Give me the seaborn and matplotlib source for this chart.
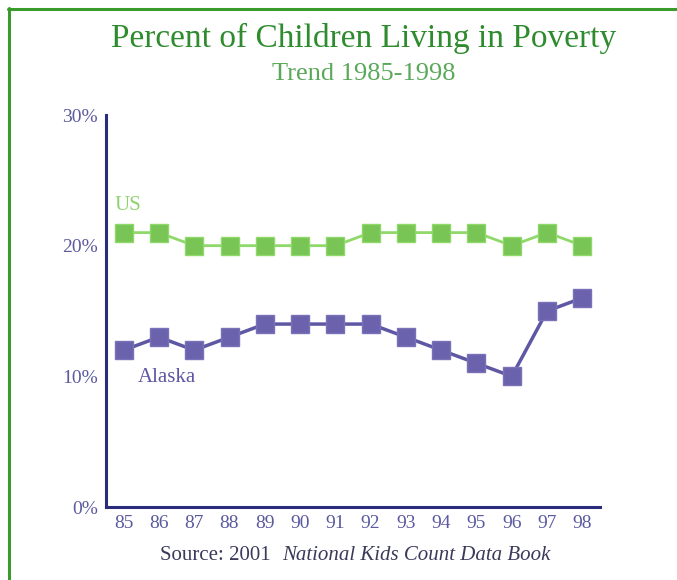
import matplotlib
matplotlib.use("Agg")
import matplotlib.pyplot as plt
import seaborn as sns
import pandas as pd

years = ["85", "86", "87", "88", "89", "90", "91", "92", "93", "94", "95", "96", "97", "98"]
us_values = [21, 21, 20, 20, 20, 20, 20, 21, 21, 21, 21, 20, 21, 20]
alaska_values = [12, 13, 12, 13, 14, 14, 14, 14, 13, 12, 11, 10, 15, 16]
y_ticks = [0, 10, 20, 30]
y_tick_labels = ["0%", "10%", "20%", "30%"]

sns.set_theme(style="white")
plt.rcParams["font.family"] = ["Liberation Serif", "DejaVu Serif"]

pos = list(range(len(years)))
df_us = pd.DataFrame({"pos": pos, "value": us_values})
df_ak = pd.DataFrame({"pos": pos, "value": alaska_values})

fig = plt.figure(figsize=(6.77, 5.80), dpi=100)
ax = fig.add_axes([106 / 677, 73 / 580, (600 - 106) / 677, (507 - 115) / 580])

axis_col = "#2b2b7e"
tick_col = "#5a5a9e"
ak_col = "#5e58a4"

sns.lineplot(data=df_us, x="pos", y="value", ax=ax, color="#8fd86a", linewidth=2,
             marker="s", markersize=13, markerfacecolor="#78c455",
             markeredgecolor="#8fd86a", markeredgewidth=1)
sns.lineplot(data=df_ak, x="pos", y="value", ax=ax, color=ak_col, linewidth=2.5,
             marker="s", markersize=13, markerfacecolor="#6a62ac",
             markeredgecolor="#7a72b8", markeredgewidth=1)

ax.set_xlim(-0.5, len(years) - 0.5)
ax.set_ylim(0, 30)
ax.set_xlabel("")
ax.set_ylabel("")

# y ticks
ax.set_yticks(y_ticks)
ax.set_yticklabels(y_tick_labels, color=tick_col, fontsize=14)
# x ticks: labels centered in bins, tick marks on bin boundaries
ax.set_xticks(pos)
ax.set_xticklabels(years, color=tick_col, fontsize=14)
ax.set_xticks([p + 0.5 for p in pos], minor=True)
ax.tick_params(axis="x", which="major", length=0, pad=6)
ax.tick_params(axis="x", which="minor", direction="in", length=6, width=1.5, color=axis_col)
ax.tick_params(axis="y", which="major", direction="in", length=8, width=1.5, color=axis_col, pad=6)

for s in ["top", "right"]:
    ax.spines[s].set_visible(False)
for s in ["left", "bottom"]:
    ax.spines[s].set_color(axis_col)
    ax.spines[s].set_linewidth(2.2)

ax.text(-0.25, 23.1, "US", color="#8fd36f", fontsize=15, va="center", ha="left")
ax.text(0.4, 9.9, "Alaska", color=ak_col, fontsize=15, va="center", ha="left")

fig.text(364 / 677, 1 - 38 / 580, "Percent of Children Living in Poverty", color="#2e8b2e",
         fontsize=24, ha="center", va="center")
fig.text(364 / 677, 1 - 74 / 580, "Trend 1985-1998", color="#5aa85a",
         fontsize=19, ha="center", va="center")
fig.text(271 / 677, 1 - 556 / 580, "Source: 2001", color="#3a3a5a",
         fontsize=15, ha="right", va="center")
fig.text(282 / 677, 1 - 556 / 580, "National Kids Count Data Book", color="#3a3a5a",
         fontsize=15, ha="left", va="center", style="italic")

# green frame (top and left)
frame_col = "#3a9a2a"
fig.add_artist(plt.Line2D([8 / 677, 1], [1 - 9 / 580, 1 - 9 / 580], color=frame_col,
                          linewidth=2.2, transform=fig.transFigure))
fig.add_artist(plt.Line2D([9 / 677, 9 / 677], [0, 1 - 8 / 580], color=frame_col,
                          linewidth=2.2, transform=fig.transFigure))

fig.savefig("out.png", dpi=100)
